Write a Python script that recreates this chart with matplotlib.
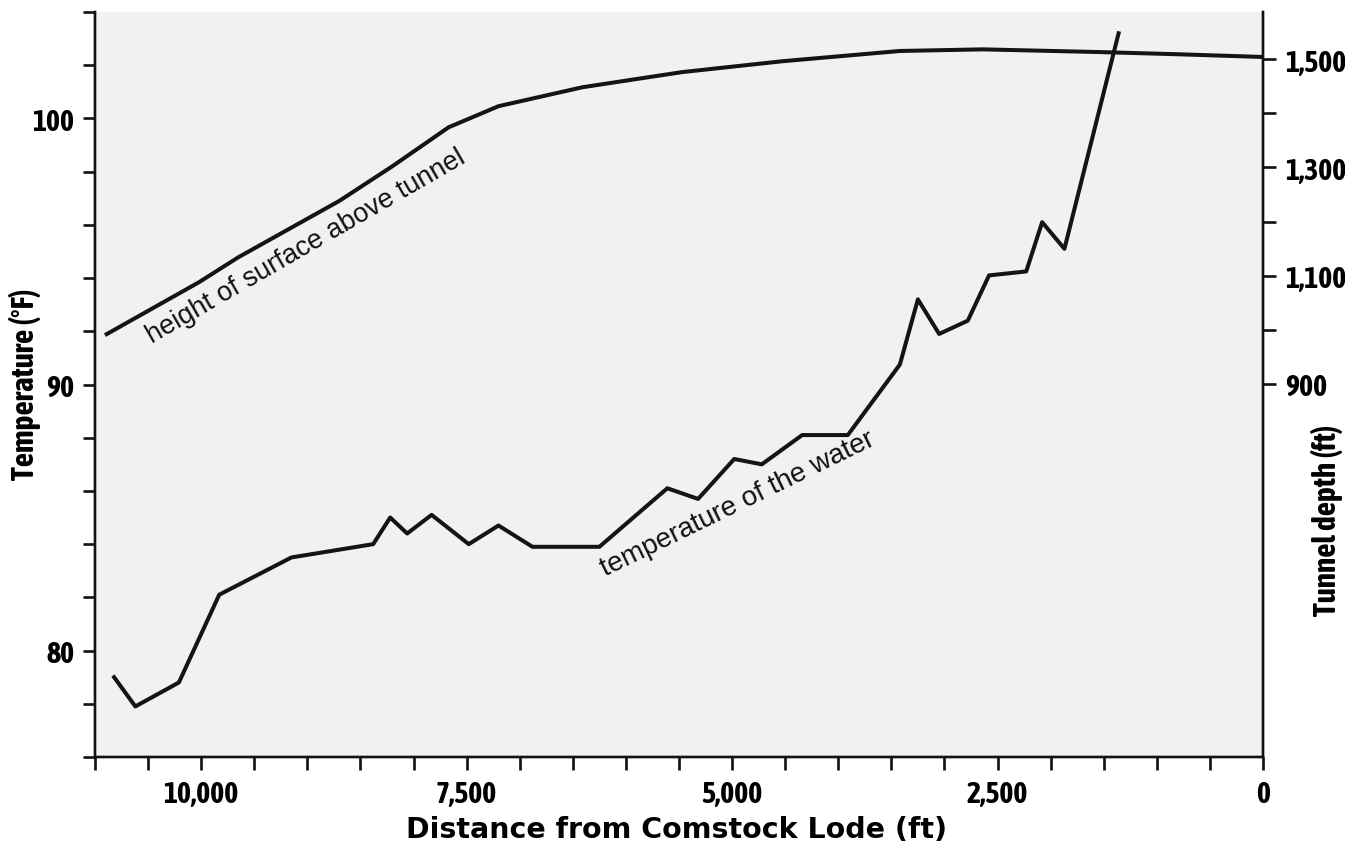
import numpy as np
import matplotlib
matplotlib.use('Agg')
import matplotlib.pyplot as plt
from matplotlib import font_manager as fm
from matplotlib.ticker import FixedLocator, FuncFormatter

# temperature of the water (left axis)
temp_dist = [10820, 10620, 10210, 9830, 9150, 8380, 8220, 8060, 7830, 7480,
             7200, 6880, 6250, 5610, 5320, 4980, 4720, 4340, 3910, 3420,
             3250, 3050, 2780, 2580, 2230, 2080, 1870, 1360]
temp_f = [79.0, 77.9, 78.8, 82.1, 83.5, 84.0, 85.0, 84.4, 85.1, 84.0,
          84.7, 83.9, 83.9, 86.1, 85.7, 87.2, 87.0, 88.1, 88.1, 90.75,
          93.2, 91.9, 92.4, 94.1, 94.25, 96.1, 95.1, 103.2]

# height of surface above tunnel (right axis)
surf_dist = [10890, 10020, 9650, 8700, 8200, 7670, 7200, 6410, 5470, 4530,
             3420, 2640, 1540, 810, 10]
surf_ft = [992, 1088, 1134, 1238, 1302, 1374, 1413, 1448, 1476, 1496,
           1515, 1518, 1513, 1509, 1504]

x_major = [0, 2500, 5000, 7500, 10000]
x_minor = list(range(0, 11001, 500))
left_major = [80, 90, 100]
left_minor = list(range(76, 105, 2))
right_major = [900, 1100, 1300, 1500]
right_minor = [1000, 1200, 1400]


def wnum(w):
    return w if isinstance(w, int) else fm.weight_dict.get(w, 400)


# the scan uses a condensed face: take the boldest upright narrow family
best = None
for f in fm.fontManager.ttflist:
    if f.style != 'normal':
        continue
    if 'Narrow' in f.name or 'Condensed' in f.name:
        score = abs(wnum(f.weight) - 700)
        if best is None or score < best[0]:
            best = (score, f)

if best is not None:
    f = best[1]
    plt.rcParams['font.family'] = [f.name, 'DejaVu Sans']
    plt.rcParams['font.weight'] = f.weight
    plt.rcParams['font.stretch'] = f.stretch
    tsize, lsize = 21.5, 22.5
else:
    plt.rcParams['font.family'] = ['DejaVu Sans']
    plt.rcParams['font.weight'] = 'bold'
    plt.rcParams['font.stretch'] = 'condensed'
    tsize, lsize = 15.5, 16

W, H = 1345, 845
fig = plt.figure(figsize=(W / 100, H / 100), dpi=100)
ax = fig.add_axes([95 / W, 1 - 758 / H, (1263 - 95) / W, (758 - 13) / H])
ax.set_facecolor('#f1f1f1')

ax.plot(temp_dist, temp_f, color='#141414', lw=2.9)
ax.set_xlim(11000, 0)
ax.set_ylim(76, 104)

ax2 = ax.twinx()
ax2.plot(surf_dist, surf_ft, color='#141414', lw=2.9)
ax2.set_ylim(211, 1587)

comma = FuncFormatter(lambda v, p: '{:,.0f}'.format(v))
ax.xaxis.set_major_locator(FixedLocator(x_major))
ax.xaxis.set_minor_locator(FixedLocator(x_minor))
ax.xaxis.set_major_formatter(comma)
ax.yaxis.set_major_locator(FixedLocator(left_major))
ax.yaxis.set_minor_locator(FixedLocator(left_minor))
ax2.yaxis.set_major_locator(FixedLocator(right_major))
ax2.yaxis.set_minor_locator(FixedLocator(right_minor))
ax2.yaxis.set_major_formatter(comma)

for a in (ax, ax2):
    a.spines['top'].set_visible(False)
    for s in a.spines.values():
        s.set_linewidth(1.7)
        s.set_color('#111111')
    a.tick_params(which='both', direction='out', length=9, width=1.9,
                  color='#111111', labelsize=tsize)
ax.tick_params(axis='x', pad=7)
ax.tick_params(axis='y', pad=6)
ax2.tick_params(axis='y', pad=7)

# labels along the curves
ax.text(10463, 91.55, 'height of surface above tunnel', rotation=30,
        rotation_mode='anchor', ha='left', va='baseline', fontsize=19.5,
        family='Liberation Sans', fontweight='normal', stretch='normal',
        color='#111111')
ax.text(6197, 82.8, 'temperature of the water', rotation=26,
        rotation_mode='anchor', ha='left', va='baseline', fontsize=20,
        family='Liberation Sans', fontweight='normal', stretch='normal',
        color='#111111')

fig.text(25 / W, 1 - 384 / H, 'Temperature (°F)', rotation=90,
         ha='center', va='center', fontsize=lsize)
fig.text(677 / W, 1 - 830 / H, 'Distance from Comstock Lode (ft)',
         ha='center', va='center', fontsize=20.5, family='DejaVu Sans',
         fontweight='bold', stretch='normal')
fig.text(1327 / W, 1 - 520 / H, 'Tunnel depth (ft)', rotation=90,
         ha='center', va='center', fontsize=lsize)

fig.savefig('out.png', dpi=100)
